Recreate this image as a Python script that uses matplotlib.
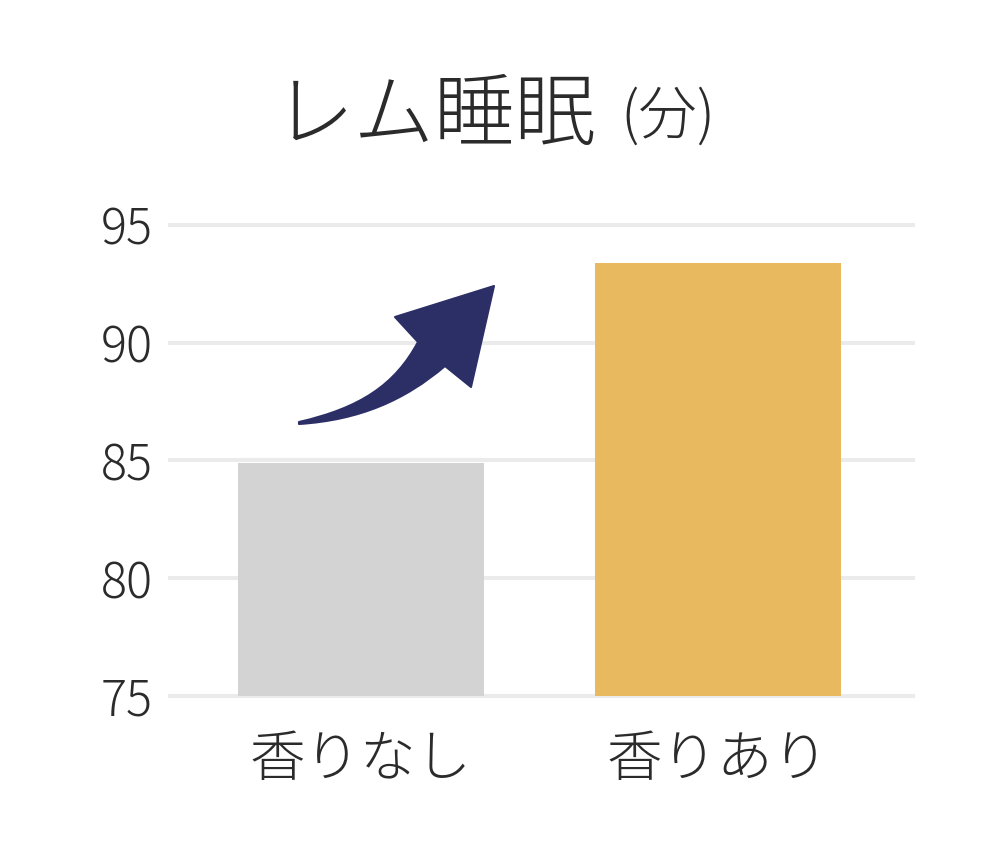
import matplotlib
matplotlib.use("Agg")
import matplotlib.pyplot as plt
from matplotlib.path import Path
from matplotlib.patches import PathPatch

plt.rcParams['font.family'] = ['Noto Sans CJK JP', 'DejaVu Sans']

categories = ["香りなし", "香りあり"]
values = [84.9, 93.4]
bar_colors = ["#d3d3d3", "#e8b95e"]
yticks = [75, 80, 85, 90, 95]
title_main = "レム睡眠"
title_unit = "(分)"

TEXT = "#2b2b2b"
fig = plt.figure(figsize=(10, 8.5), dpi=100)
ax = fig.add_axes([0.168, 0.177, 0.747, 0.5625])

x = list(range(len(categories)))
ax.bar(x, [v - 75 for v in values], bottom=75, width=0.69, color=bar_colors, zorder=2)
ax.set_xlim(-0.54, 1.552)
ax.set_ylim(74.85, 95.15)
ax.set_yticks(yticks)
ax.set_yticklabels([str(t) for t in yticks])
ax.set_xticks(x)
ax.set_xticklabels(categories)
for y in yticks:
    ax.axhline(y, color="#ebebeb", lw=2.9, zorder=1)
for s in ax.spines.values():
    s.set_visible(False)
ax.tick_params(axis="y", length=0, pad=11, labelsize=35, labelcolor=TEXT)
ax.tick_params(axis="x", length=0, pad=22, labelsize=40, labelcolor=TEXT)
for lab in ax.get_yticklabels():
    lab.set_fontweight("light")
for lab in ax.get_xticklabels():
    lab.set_fontweight("light")

# title
fig.text(0.596, 0.862, title_main, ha="right", va="center", fontsize=58,
         color=TEXT, fontweight="light")
fig.text(0.620, 0.862, title_unit, ha="left", va="center", fontsize=42,
         color=TEXT, fontweight="light")

# decorative curved arrow (pixel coords -> figure coords)
def P(px, py):
    return (px / 1000.0, 1 - py / 850.0)

verts = [
    P(299, 422),
    P(360, 408), P(395, 385), P(418, 342),
    P(395, 317),
    P(494, 286),
    P(471, 387),
    P(445, 366),
    P(405, 400), P(360, 420), P(299, 424),
    P(299, 422),
]
codes = [Path.MOVETO,
         Path.CURVE4, Path.CURVE4, Path.CURVE4,
         Path.LINETO, Path.LINETO, Path.LINETO, Path.LINETO,
         Path.CURVE4, Path.CURVE4, Path.CURVE4,
         Path.CLOSEPOLY]
arrow = PathPatch(Path(verts, codes), transform=fig.transFigure,
                  facecolor="#2c2e66", edgecolor="#2c2e66", lw=1.5, joinstyle="round")
fig.patches.append(arrow)

fig.savefig("out.png", dpi=100, facecolor="white")
